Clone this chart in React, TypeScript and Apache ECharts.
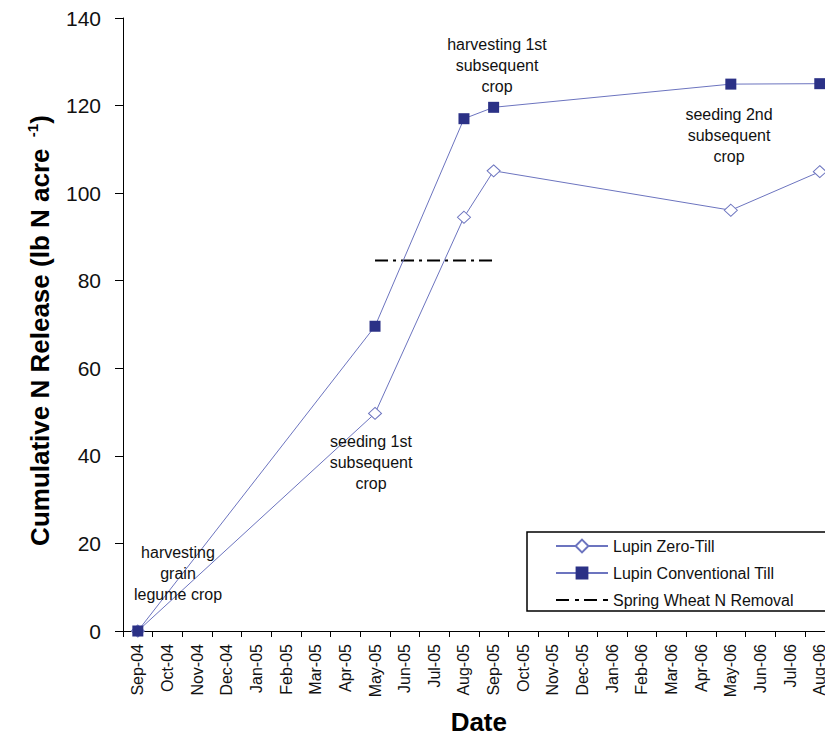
import React, { useEffect, useRef } from "react";
import * as echarts from "echarts";

const months = [
  "Sep-04", "Oct-04", "Nov-04", "Dec-04", "Jan-05", "Feb-05", "Mar-05", "Apr-05",
  "May-05", "Jun-05", "Jul-05", "Aug-05", "Sep-05", "Oct-05", "Nov-05", "Dec-05",
  "Jan-06", "Feb-06", "Mar-06", "Apr-06", "May-06", "Jun-06", "Jul-06", "Aug-06",
];

const sampleMonths = ["Sep-04", "May-05", "Aug-05", "Sep-05", "May-06", "Aug-06"];
const zeroTill = [0, 49.7, 94.5, 105.1, 96.1, 104.9];
const conventionalTill = [0, 69.6, 117.0, 119.6, 124.9, 125.0];

const wheatMonths = ["May-05", "Sep-05"];
const wheatRemoval = [84.6, 84.6];

const yTicks = { min: 0, max: 140, interval: 20 };

const annotations = [
  { text: "harvesting\ngrain\nlegume crop", x: 178, y: 573 },
  { text: "seeding 1st\nsubsequent\ncrop", x: 371, y: 462 },
  { text: "harvesting 1st\nsubsequent\ncrop", x: 497, y: 65 },
  { text: "seeding 2nd\nsubsequent\ncrop", x: 729, y: 135 },
];

const FONT = "'Liberation Sans', Arial, Helvetica, sans-serif";
const LINE = "#6c74bf";
const NAVY = "#2b3186";
// dash-dot sample used as the legend icon of the wheat removal line
const DASH_DOT_ICON =
  "path://M0,0h13v2h-13z M19,0h4v2h-4z M28,0h13v2h-13z M47,0h5v2h-5z";

export default function App() {
  const ref = useRef<HTMLDivElement>(null);

  useEffect(() => {
    if (!ref.current) return;
    const chart = echarts.init(ref.current, undefined, { renderer: "svg" });
    const pair = (xs: string[], ys: number[]) => xs.map((m, i) => [m, ys[i]]);

    chart.setOption({
      animation: false,
      backgroundColor: "#ffffff",
      textStyle: { fontFamily: FONT },
      grid: { left: 123, top: 18, width: 711.6, height: 613, outerBoundsMode: "none", containLabel: false },
      legend: {
        orient: "vertical",
        left: 527,
        top: 532,
        padding: [6, 49, 3, 28],
        itemWidth: 52,
        itemHeight: 16,
        itemGap: 11,
        borderColor: "#000",
        borderWidth: 1.5,
        borderRadius: 0,
        backgroundColor: "#fff",
        textStyle: { fontSize: 16, color: "#111", fontFamily: FONT },
        data: [
          "Lupin Zero-Till",
          "Lupin Conventional Till",
          { name: "Spring Wheat N Removal", icon: DASH_DOT_ICON, itemStyle: { color: "#000" } },
        ],
      },
      xAxis: {
        type: "category",
        data: months,
        boundaryGap: true,
        name: "Date",
        nameLocation: "middle",
        nameGap: 78,
        nameTextStyle: { fontSize: 26, fontWeight: "bold", color: "#000", fontFamily: FONT },
        axisLine: { lineStyle: { color: "#000", width: 1 } },
        axisTick: { show: true, interval: 0, length: 6, alignWithLabel: false, lineStyle: { color: "#000" } },
        axisLabel: { interval: 0, rotate: 90, fontSize: 16, color: "#111", margin: 13, fontFamily: FONT },
        splitLine: { show: false },
      },
      yAxis: {
        type: "value",
        min: yTicks.min,
        max: yTicks.max,
        interval: yTicks.interval,
        name: "Cumulative N Release (lb N acre {sup| -1})",
        nameLocation: "middle",
        nameGap: 69,
        nameTextStyle: {
          fontSize: 26,
          fontWeight: "bold",
          color: "#000",
          fontFamily: FONT,
          padding: [0, 12, 0, 0],
          rich: { sup: { fontSize: 15, fontWeight: "bold", color: "#000", padding: [0, 0, 14, 0], fontFamily: FONT } },
        },
        axisLine: { show: true, lineStyle: { color: "#000", width: 1 } },
        axisTick: { show: true, length: 8, lineStyle: { color: "#000" } },
        axisLabel: { fontSize: 21, color: "#111", margin: 22, fontFamily: FONT },
        splitLine: { show: false },
      },
      series: [
        {
          name: "Lupin Zero-Till",
          type: "line",
          data: pair(sampleMonths, zeroTill),
          symbol: "diamond",
          symbolSize: [13, 12],
          showAllSymbol: true,
          lineStyle: { color: LINE, width: 1 },
          itemStyle: { color: "#fff", borderColor: LINE, borderWidth: 1 },
          z: 3,
        },
        {
          name: "Lupin Conventional Till",
          type: "line",
          data: pair(sampleMonths, conventionalTill),
          symbol: "rect",
          symbolSize: 11,
          showAllSymbol: true,
          lineStyle: { color: LINE, width: 1 },
          itemStyle: { color: NAVY, borderColor: NAVY, borderWidth: 0 },
          z: 4,
        },
        {
          name: "Spring Wheat N Removal",
          type: "line",
          data: pair(wheatMonths, wheatRemoval),
          symbol: "none",
          lineStyle: { color: "#000", width: 2, type: [13, 5, 3, 5] },
          itemStyle: { color: "#000" },
          z: 2,
        },
      ],
      graphic: annotations.map((a) => ({
        type: "text",
        x: a.x,
        y: a.y,
        z: 10,
        style: {
          text: a.text,
          fontSize: 16,
          fontFamily: FONT,
          fill: "#111",
          align: "center",
          verticalAlign: "middle",
          lineHeight: 21,
        },
      })),
    });

    return () => chart.dispose();
  }, []);

  return (
    <div
      ref={ref}
      style={{ position: "fixed", left: 0, top: 0, width: 825, height: 736, background: "#fff" }}
    />
  );
}
